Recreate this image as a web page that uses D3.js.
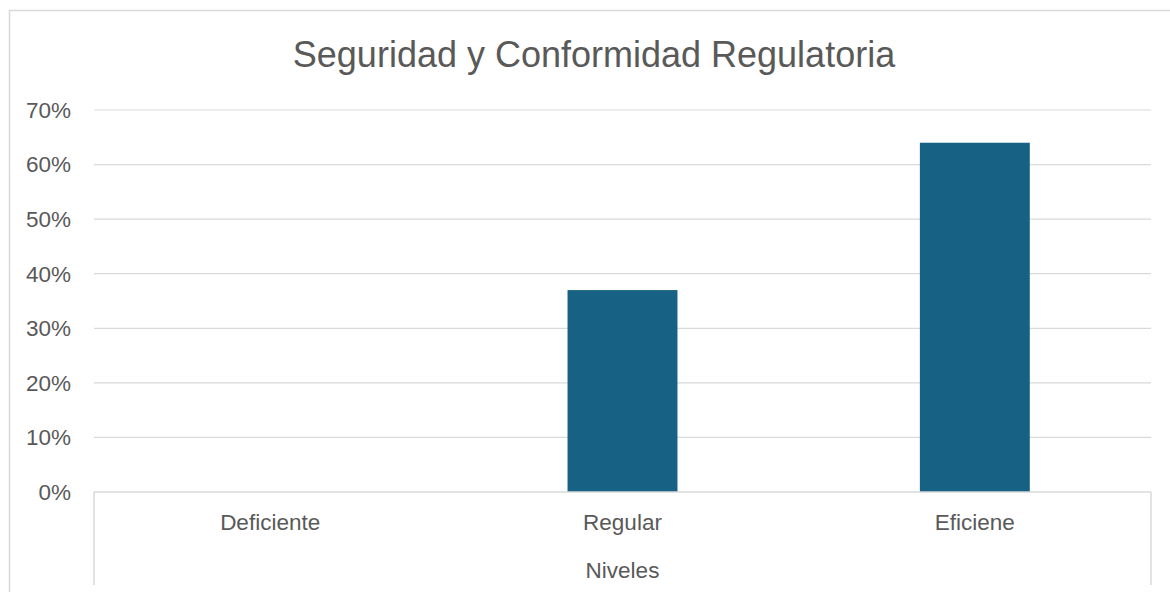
<!DOCTYPE html>
<html>
<head>
<meta charset="utf-8">
<script src="https://cdn.jsdelivr.net/npm/d3@7"></script>
<style>
  body { margin: 0; background: #fff; }
  text { font-family: "Liberation Sans", Arial, sans-serif; fill: #595959; }
</style>
</head>
<body>
<div id="chart"></div>
<script>
// data
const categories = ["Deficiente", "Regular", "Eficiene"];
const values = [0, 0.37, 0.64];
const yTicks = [0, 0.1, 0.2, 0.3, 0.4, 0.5, 0.6, 0.7];
const chartTitle = "Seguridad y Conformidad Regulatoria";
const xTitle = "Niveles";

const W = 1170, H = 592;
const margin = { top: 110, right: 19, bottom: 100, left: 94 };
const width = W - margin.left - margin.right,
  height = 492 - margin.top;

const svg = d3.select("#chart").append("svg")
  .attr("width", W)
  .attr("height", H);

// chart border
svg.append("rect")
  .attr("x", 9.5).attr("y", 10.5)
  .attr("width", W + 10).attr("height", H + 10)
  .attr("fill", "none")
  .attr("stroke", "#d9d9d9")
  .attr("stroke-width", 1.5);

svg.append("text")
  .attr("x", 594).attr("y", 67)
  .attr("text-anchor", "middle")
  .attr("font-size", 36)
  .text(chartTitle);

const g = svg.append("g")
  .attr("transform", "translate(" + margin.left + "," + margin.top + ")");

const x = d3.scaleBand().domain(categories).range([0, width]).padding(0);
const y = d3.scaleLinear().domain([0, 0.7]).range([height, 0]);

// gridlines
g.selectAll(".grid")
  .data(yTicks.slice(1))
  .enter().append("line")
  .attr("x1", 0).attr("x2", width)
  .attr("y1", d => y(d)).attr("y2", d => y(d))
  .attr("stroke", "#d9d9d9")
  .attr("stroke-width", 1.2);

// y tick labels
g.selectAll(".ytick")
  .data(yTicks)
  .enter().append("text")
  .attr("x", -23)
  .attr("y", d => y(d))
  .attr("dy", "0.35em")
  .attr("text-anchor", "end")
  .attr("font-size", 22.5)
  .text(d3.format(".0%"));

// bars
const barW = x.bandwidth() * 0.312;
g.selectAll(".bar")
  .data(values)
  .enter().append("rect")
  .attr("x", (d, i) => x(categories[i]) + (x.bandwidth() - barW) / 2)
  .attr("y", d => y(d))
  .attr("width", barW)
  .attr("height", d => height - y(d))
  .attr("fill", "#176184");

// x axis line and side ticks
g.append("line")
  .attr("x1", 0).attr("x2", width)
  .attr("y1", height).attr("y2", height)
  .attr("stroke", "#d9d9d9").attr("stroke-width", 1.5);
g.selectAll(".xedge")
  .data([0, width])
  .enter().append("line")
  .attr("x1", d => d).attr("x2", d => d)
  .attr("y1", height).attr("y2", height + 93)
  .attr("stroke", "#d9d9d9").attr("stroke-width", 1.5);

// category labels
g.selectAll(".xlab")
  .data(categories)
  .enter().append("text")
  .attr("x", d => x(d) + x.bandwidth() / 2)
  .attr("y", height + 30)
  .attr("dy", "0.35em")
  .attr("text-anchor", "middle")
  .attr("font-size", 22.5)
  .text(d => d);

svg.append("text")
  .attr("x", margin.left + width / 2)
  .attr("y", 570)
  .attr("dy", "0.35em")
  .attr("text-anchor", "middle")
  .attr("font-size", 22.5)
  .text(xTitle);
</script>
</body>
</html>
